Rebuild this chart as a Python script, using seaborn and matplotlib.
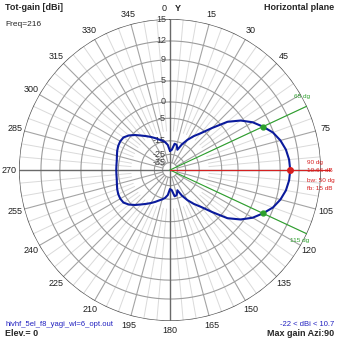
import numpy as np
import pandas as pd
import matplotlib
matplotlib.use("Agg")
import matplotlib.pyplot as plt
import matplotlib.transforms as mtransforms
import seaborn as sns

# Horizontal-plane total gain (dBi) of the 5-element yagi at 216 MHz, every 5 degrees of azimuth
azimuth_deg = [0, 5, 10, 15, 20, 25, 30, 35, 40, 45, 50, 55, 60, 65, 70, 75, 80, 85,
               90, 95, 100, 105, 110, 115, 120, 125, 130, 135, 140, 145, 150, 155, 160, 165,
               170, 175, 180, 185, 190, 195, 200, 205, 210, 215, 220, 225, 230, 235, 240, 245,
               250, 255, 260, 265, 270, 275, 280, 285, 290, 295, 300, 305, 310, 315, 320, 325,
               330, 335, 340, 345, 350, 355, 360]
gain_dbi = [-22.0, -21.0, -16.5, -17.0, -20.0, -15.5, -12.0, -9.0, -6.3, -2.5, 1.8, 4.4, 6.3, 7.66,
            8.9, 9.7, 10.25, 10.55,
            10.66, 10.55, 10.25, 9.7, 8.9, 7.66, 6.3, 4.4, 1.8, -2.5, -6.3, -9.0, -12.0, -15.5,
            -20.0, -17.0, -16.5, -21.0,
            -22.0, -17.5, -15.5, -14.3, -13.2, -11.8, -10.4, -9.0, -7.5, -5.8, -4.3, -3.3, -3.1,
            -3.2, -3.5, -3.9, -4.2, -4.3,
            -4.3, -4.3, -4.2, -3.9, -3.5, -3.2, -3.1, -3.3, -4.3, -5.8, -7.5, -9.0, -10.4, -11.8,
            -13.2, -14.3, -15.5, -17.5, -22.0]

ring_levels = [15, 12, 9, 5, 0, -5, -15, -25, -35]
ring_labels = ["15", "12", "9", "5", "0", "-5", "-15", "-25", "-35"]
angle_ticks = [15, 30, 45, 75, 105, 120, 135, 150, 165, 180, 195, 210, 225, 240, 255,
               270, 285, 300, 315, 330, 345]

max_azimuth = 90
max_gain = 10.66
beam_edges = [65, 115]
beam_edge_gain = [7.66, 7.66]
beamwidth = 50
front_back = 15
gain_range = (-22, 10.7)


def radius(g):
    """Log-periodic radial scale: outer ring = 15 dBi, compressed toward the centre."""
    g = np.asarray(g, dtype=float)
    return 1.033 * np.exp(0.0506 * (g - 15.0)) - 0.033


sns.set_theme(style="white")
plt.rcParams["font.family"] = ["Liberation Sans", "DejaVu Sans"]

W = 339
fig = plt.figure(figsize=(W / 100, W / 100), dpi=100)
fig.patch.set_facecolor("white")
ax = fig.add_axes([19 / W, 18 / W, 302 / W, 302 / W], projection="polar")
ax.set_theta_zero_location("N")
ax.set_theta_direction(-1)
ax.set_ylim(0, 1)
ax.grid(False)
ax.set_xticks([])
ax.set_yticks([])
ax.spines["polar"].set_visible(False)
ax.set_facecolor("white")

full = np.linspace(0, 2 * np.pi, 361)
# minor spokes every 5 degrees
r_inner_minor = float(radius(-10))
for a in range(0, 360, 5):
    if a % 15:
        ax.plot([np.deg2rad(a)] * 2, [r_inner_minor, 1], color="#dadada", lw=0.7, zorder=1)
# major spokes every 15 degrees
r_inner_major = float(radius(-35))
for a in range(0, 360, 15):
    if a % 90:
        ax.plot([np.deg2rad(a)] * 2, [r_inner_major, 1], color="#a4a4a4", lw=0.8, zorder=2)
# rings
for lv in ring_levels[1:]:
    ax.plot(full, np.full_like(full, radius(lv)), color="#9c9c9c", lw=0.8, zorder=2)
ax.plot(full, np.ones_like(full), color="#505050", lw=1.0, zorder=3)
# main axes through the centre
for a in (0, 90):
    ax.plot([np.deg2rad(a), 0], [1, 0], color="#6a6a6a", lw=1.0, zorder=3)
    ax.plot([np.deg2rad(a + 180), 0], [1, 0], color="#6a6a6a", lw=1.0, zorder=3)

# ring labels just left of the 0-degree axis
lab_tf = mtransforms.offset_copy(ax.transData, fig=fig, x=-4, y=0, units="dots")
for lv, txt in zip(ring_levels, ring_labels):
    ax.text(0, float(radius(lv)), txt, transform=lab_tf, ha="right", va="center",
            fontsize=6.5, color="#404040", zorder=4)

# azimuth labels outside the outer ring
for a in angle_ticks:
    ax.text(np.deg2rad(a), 1.065, str(a), ha="center", va="center", fontsize=6.5,
            color="#202020", clip_on=False)
ax.text(np.deg2rad(-2.0), 1.07, "0", ha="center", va="center", fontsize=6.5,
        color="#202020", clip_on=False)
ax.text(np.deg2rad(2.8), 1.07, "Y", ha="center", va="center", fontsize=6.5,
        fontweight="bold", color="#202020", clip_on=False)

# beam edges (-3 dB) in green
green = "#2ca02c"
for a, g in zip(beam_edges, beam_edge_gain):
    ax.plot([0, np.deg2rad(a)], [0, 1.0], color=green, lw=0.8, zorder=5)
    ax.plot([np.deg2rad(a)], [float(radius(g))], "o", color=green, ms=3.5, zorder=7)
ax.text(np.deg2rad(61), 1.0, f"{beam_edges[0]} dg", color=green, fontsize=4.6,
        ha="center", va="center", clip_on=False)
ax.text(np.deg2rad(118.5), 0.98, f"{beam_edges[1]} dg", color=green, fontsize=4.6,
        ha="center", va="center", clip_on=False)

# maximum-gain direction in red
red = "#d62020"
ax.plot([0, np.deg2rad(max_azimuth)], [0, 1.06], color=red, lw=0.8, zorder=5, clip_on=False)

# radiation pattern
df = pd.DataFrame({"theta": np.deg2rad(azimuth_deg), "r": radius(gain_dbi)})
sns.lineplot(data=df, x="theta", y="r", sort=False, estimator=None, ax=ax,
             color="#0a1a9c", lw=1.5, zorder=6)
ax.set_xlabel("")
ax.set_ylabel("")
ax.plot([np.deg2rad(max_azimuth)], [float(radius(max_gain))], "o", color=red, ms=4, zorder=8)

ann = [f"{max_azimuth} dg", f"{max_gain:.2f} dB", f"bw: {beamwidth} dg", f"fb: {front_back} dB"]
for i, t in enumerate(ann):
    fig.text(307 / W, 1 - (162 + 9 * i) / W, t, color=red, fontsize=4.6, ha="left",
             va="center")

# header and footer texts
fig.text(5 / W, 1 - 7 / W, "Tot-gain [dBi]", fontsize=6.5, fontweight="bold", va="center")
fig.text(5 / W, 1 - 24 / W, "Freq=216", fontsize=6, va="center")
fig.text(334 / W, 1 - 7 / W, "Horizontal plane", fontsize=6.5, fontweight="bold",
         ha="right", va="center")
fig.text(5 / W, 1 - 324 / W, "hivhf_5el_f8_yagi_wl=6_opt.out", fontsize=5.5, color="#2020c0",
         va="center")
fig.text(5 / W, 1 - 333 / W, "Elev.= 0", fontsize=6.5, fontweight="bold", va="center")
fig.text(334 / W, 1 - 324 / W, f"{gain_range[0]} < dBi < {gain_range[1]}", fontsize=5.5,
         color="#2020c0", ha="right", va="center")
fig.text(334 / W, 1 - 333 / W, f"Max gain Azi:{max_azimuth}", fontsize=6.5,
         fontweight="bold", ha="right", va="center")

fig.savefig("out.png", dpi=100, facecolor="white")
